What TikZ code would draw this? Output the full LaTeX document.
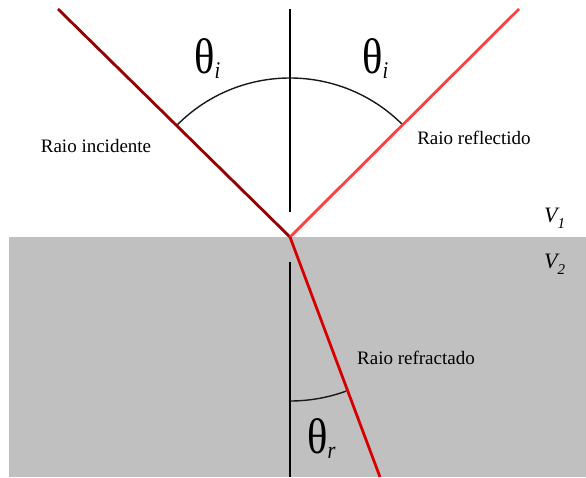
\documentclass[tikz,border=0pt]{standalone}
\usepackage{fontspec}
\setmainfont{Liberation Serif}
\usetikzlibrary{calc}
\definecolor{incred}{RGB}{150,0,0}
\definecolor{refred}{RGB}{255,64,64}
\definecolor{frcred}{RGB}{215,0,0}
\definecolor{medium}{RGB}{192,192,192}
\begin{document}
\begin{tikzpicture}[x=1pt,y=-1pt,
  ray/.style={line width=2.8pt},
  normal/.style={line width=1.8pt,black},
  anglearc/.style={line width=1.4pt,black!90},
  lbl/.style={inner sep=0pt,font=\fontsize{19}{19}\selectfont},
  theta/.style={inner sep=0pt,anchor=base west,xscale=0.85,font=\fontsize{50}{50}\selectfont},
  vlbl/.style={inner sep=0pt,anchor=base west,font=\fontsize{22}{22}\selectfont\itshape}]
\useasboundingbox (0,0) rectangle (586,477);
\fill[white] (0,0) rectangle (586,477);
\fill[medium] (9,237) rectangle (586,477);
% points
\coordinate (O) at (290,237);
\coordinate (inc) at (58,9);
\coordinate (refl) at (519,9);
\coordinate (frc) at (380,477);
\coordinate (ntop) at (290,9);
\coordinate (nbot) at (290,212);
\coordinate (ltop) at (290,262);
\coordinate (lbot) at (290,477);
% normals
\draw[normal] (ntop) -- (nbot);
\draw[normal] (ltop) -- (lbot);
% arcs
\draw[anglearc] ($(O)+(-135:159)$) arc[start angle=-135, end angle=-45, radius=159];
\draw[anglearc] ($(O)+(90:164)$) arc[start angle=90, end angle=70, radius=164];
% rays
\draw[ray,incred] (inc) -- (O);
\draw[ray,refred] (O) -- (refl);
\draw[ray,frcred] (O) -- (frc);
% labels
\node[lbl] (tinc) at (96,146) {Raio incidente};
\node[lbl] (trefl) at (474,138) {Raio reflectido};
\node[lbl] (tfrc) at (416,358) {Raio refractado};
\node[theta] (thl) at (194,73) {θ\raisebox{-0.1em}{\fontsize{24}{24}\selectfont\itshape i}};
\node[theta] (thr) at (362,73) {θ\raisebox{-0.1em}{\fontsize{24}{24}\selectfont\itshape i}};
\node[theta] (thf) at (307,453) {θ\raisebox{-0.1em}{\fontsize{24}{24}\selectfont\itshape r}};
\node[vlbl] (v1) at (544,222) {V\raisebox{-0.3em}{\fontsize{15}{15}\selectfont 1}};
\node[vlbl] (v2) at (544,268) {V\raisebox{-0.3em}{\fontsize{15}{15}\selectfont 2}};
\end{tikzpicture}
\end{document}
